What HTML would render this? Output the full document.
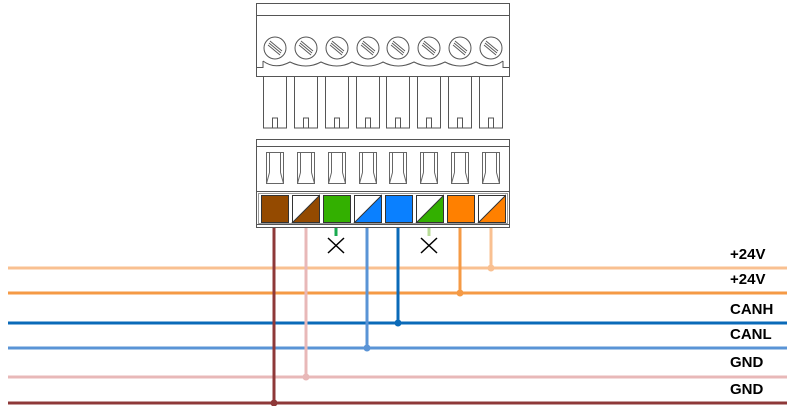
<!DOCTYPE html>
<html><head><meta charset="utf-8"><style>
body{margin:0;background:#fff;width:791px;height:406px;overflow:hidden}
svg text{font-family:"Liberation Sans",sans-serif;font-weight:bold;font-size:15px;fill:#000}
</style></head><body>
<svg width="791" height="406" xmlns="http://www.w3.org/2000/svg">
<g fill="none" stroke="#555" stroke-width="1">
<rect x="256.5" y="3.5" width="253" height="73"/>
<line x1="256" y1="15.5" x2="510" y2="15.5"/>
<path d="M256.5 67.5 H263 V61"/>
<path d="M509.5 67.5 H503 V61"/>
<circle cx="275" cy="48" r="11"/><circle cx="306" cy="48" r="11"/><circle cx="337" cy="48" r="11"/><circle cx="368" cy="48" r="11"/><circle cx="398" cy="48" r="11"/><circle cx="429" cy="48" r="11"/><circle cx="460" cy="48" r="11"/><circle cx="491" cy="48" r="11"/>
<g stroke-width="0.9">
<path d="M269 43 L281 53 M270 41 L282 51 M268 45 L280 55"/>
<path d="M300 43 L312 53 M301 41 L313 51 M299 45 L311 55"/>
<path d="M331 43 L343 53 M332 41 L344 51 M330 45 L342 55"/>
<path d="M362 43 L374 53 M363 41 L375 51 M361 45 L373 55"/>
<path d="M392 43 L404 53 M393 41 L405 51 M391 45 L403 55"/>
<path d="M423 43 L435 53 M424 41 L436 51 M422 45 L434 55"/>
<path d="M454 43 L466 53 M455 41 L467 51 M453 45 L465 55"/>
<path d="M485 43 L497 53 M486 41 L498 51 M484 45 L496 55"/>
</g>
<path d="M263 61 Q275 70 290 62 Q306 70 321 62 Q337 70 352 62 Q368 70 383 62 Q398 70 414 62 Q429 70 445 62 Q460 70 476 62 Q491 70 503 61"/>
<path d="M263.5 76 V128 H286.5 V76 M294.5 76 V128 H317.5 V76 M325.5 76 V128 H348.5 V76 M356.5 76 V128 H379.5 V76 M386.5 76 V128 H409.5 V76 M417.5 76 V128 H440.5 V76 M448.5 76 V128 H471.5 V76 M479.5 76 V128 H502.5 V76"/>
<path d="M272.5 128 V118 H277.5 V128 M303.5 128 V118 H308.5 V128 M334.5 128 V118 H339.5 V128 M365.5 128 V118 H370.5 V128 M395.5 128 V118 H400.5 V128 M426.5 128 V118 H431.5 V128 M457.5 128 V118 H462.5 V128 M488.5 128 V118 H493.5 V128"/>
<rect x="256.5" y="139.5" width="253" height="88"/>
<line x1="256" y1="146.5" x2="510" y2="146.5"/>
<line x1="256" y1="191.5" x2="510" y2="191.5"/>
<line x1="256" y1="224.5" x2="510" y2="224.5"/>
<rect x="258.5" y="193.5" width="249" height="30" stroke="#999"/>
<g stroke="#666">
<path d="M266.5 152.5 h17 v31 h-17z M269.5 152.5 v20 M280.5 152.5 v20 M269.5 172.5 l-3 11 M280.5 172.5 l3 11"/>
<path d="M297.5 152.5 h17 v31 h-17z M300.5 152.5 v20 M311.5 152.5 v20 M300.5 172.5 l-3 11 M311.5 172.5 l3 11"/>
<path d="M328.5 152.5 h17 v31 h-17z M331.5 152.5 v20 M342.5 152.5 v20 M331.5 172.5 l-3 11 M342.5 172.5 l3 11"/>
<path d="M359.5 152.5 h17 v31 h-17z M362.5 152.5 v20 M373.5 152.5 v20 M362.5 172.5 l-3 11 M373.5 172.5 l3 11"/>
<path d="M389.5 152.5 h17 v31 h-17z M392.5 152.5 v20 M403.5 152.5 v20 M392.5 172.5 l-3 11 M403.5 172.5 l3 11"/>
<path d="M420.5 152.5 h17 v31 h-17z M423.5 152.5 v20 M434.5 152.5 v20 M423.5 172.5 l-3 11 M434.5 172.5 l3 11"/>
<path d="M451.5 152.5 h17 v31 h-17z M454.5 152.5 v20 M465.5 152.5 v20 M454.5 172.5 l-3 11 M465.5 172.5 l3 11"/>
<path d="M482.5 152.5 h17 v31 h-17z M485.5 152.5 v20 M496.5 152.5 v20 M485.5 172.5 l-3 11 M496.5 172.5 l3 11"/>
</g>
</g>
<g stroke="#333" stroke-width="1">
<rect x="261.5" y="195.5" width="27" height="27" fill="#944a00"/>
<rect x="292.5" y="195.5" width="27" height="27" fill="#fff"/><path d="M319.5 195.5 V222.5 H292.5Z" fill="#944a00"/>
<rect x="323.5" y="195.5" width="27" height="27" fill="#33b000"/>
<rect x="354.5" y="195.5" width="27" height="27" fill="#fff"/><path d="M381.5 195.5 V222.5 H354.5Z" fill="#0a80ff"/>
<rect x="385.5" y="195.5" width="27" height="27" fill="#0a80ff"/>
<rect x="416.5" y="195.5" width="27" height="27" fill="#fff"/><path d="M443.5 195.5 V222.5 H416.5Z" fill="#33b000"/>
<rect x="447.5" y="195.5" width="27" height="27" fill="#ff8000"/>
<rect x="478.5" y="195.5" width="27" height="27" fill="#fff"/><path d="M505.5 195.5 V222.5 H478.5Z" fill="#ff8000"/>
</g>
<g stroke-width="3" fill="none">
<line x1="8" y1="268" x2="787" y2="268" stroke="#f9c091"/>
<line x1="8" y1="293" x2="787" y2="293" stroke="#f59a45"/>
<line x1="8" y1="323" x2="787" y2="323" stroke="#0a6ab8"/>
<line x1="8" y1="348" x2="787" y2="348" stroke="#5a94d6"/>
<line x1="8" y1="377" x2="787" y2="377" stroke="#e8b8b8"/>
<line x1="8" y1="403" x2="787" y2="403" stroke="#8e3838"/>
<line x1="274" y1="228" x2="274" y2="403" stroke="#8e3838"/>
<line x1="306" y1="228" x2="306" y2="377" stroke="#e8b8b8"/>
<line x1="336" y1="228" x2="336" y2="236" stroke="#1aaa50"/>
<line x1="367" y1="228" x2="367" y2="348" stroke="#5a94d6"/>
<line x1="398" y1="228" x2="398" y2="323" stroke="#0a6ab8"/>
<line x1="429" y1="228" x2="429" y2="236" stroke="#b8dc98"/>
<line x1="460" y1="228" x2="460" y2="293" stroke="#f59a45"/>
<line x1="491" y1="228" x2="491" y2="268" stroke="#f9c091"/>
</g>
<circle cx="274" cy="403" r="3.5" fill="#8e3838"/>
<circle cx="306" cy="377" r="3.5" fill="#e8b8b8"/>
<circle cx="367" cy="348" r="3.5" fill="#5a94d6"/>
<circle cx="398" cy="323" r="3.5" fill="#0a6ab8"/>
<circle cx="460" cy="293" r="3.5" fill="#f59a45"/>
<circle cx="491" cy="268" r="3.5" fill="#f9c091"/>
<g stroke="#000" stroke-width="1.5">
<path d="M328 238 L344 253 M344 238 L328 253"/>
<path d="M421 238 L437 253 M437 238 L421 253"/>
</g>
<text x="730" y="259">+24V</text>
<text x="730" y="284">+24V</text>
<text x="730" y="314">CANH</text>
<text x="730" y="339">CANL</text>
<text x="730" y="367">GND</text>
<text x="730" y="394">GND</text>
</svg>
</body></html>
